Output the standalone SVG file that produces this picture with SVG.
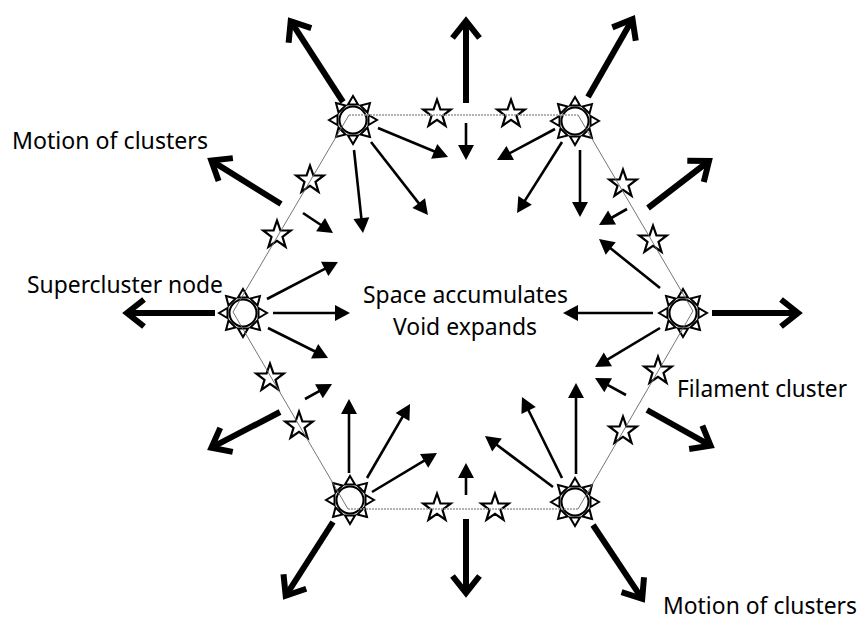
<svg xmlns="http://www.w3.org/2000/svg" xmlns:xlink="http://www.w3.org/1999/xlink" width="861" height="622" viewBox="0 0 861 622">
<style>
.sun{fill:#fff;stroke:#000;stroke-width:2}
.star{fill:#fff;stroke:#000;stroke-width:2.2;stroke-linejoin:miter}
.edge-h{stroke:#999;stroke-width:1.6;stroke-dasharray:2 1;fill:none}
.edge-d{stroke:#666;stroke-width:0.9;fill:none}
.thin{stroke:#000;stroke-width:2.6;fill:none;marker-end:url(#tri-head)}
.thick{stroke:#000;stroke-width:6;fill:none;marker-end:url(#chev-head)}
.lbl{font-family:"Noto Sans","Open Sans","DejaVu Sans",sans-serif;font-size:23px;fill:#000}
</style>
<defs>
<marker id="tri-head" markerUnits="userSpaceOnUse" orient="auto" markerWidth="40" markerHeight="40" refX="0" refY="0" overflow="visible">
<path d="M-5,-8 L10,0 L-5,8 Z" fill="#000"/>
</marker>
<marker id="chev-head" markerUnits="userSpaceOnUse" orient="auto" markerWidth="60" markerHeight="60" refX="0" refY="0" overflow="visible">
<path d="M-17,-13.5 L0,0 L-17,13.5" fill="none" stroke="#000" stroke-width="6" stroke-linejoin="miter"/>
</marker>
<path id="tri" d="M0,-24 L5,-15.5 L-5,-15.5 Z"/>
<g id="sun">
<use href="#tri"/>
<use href="#tri" transform="rotate(45)"/>
<use href="#tri" transform="rotate(90)"/>
<use href="#tri" transform="rotate(135)"/>
<use href="#tri" transform="rotate(180)"/>
<use href="#tri" transform="rotate(225)"/>
<use href="#tri" transform="rotate(270)"/>
<use href="#tri" transform="rotate(315)"/>
<circle r="13.5"/>
</g>
<path id="star" d="M0,-14.5 L3.4,-4.7 L13.8,-4.5 L5.5,1.8 L8.5,11.7 L0,5.8 L-8.5,11.7 L-5.5,1.8 L-13.8,-4.5 L-3.4,-4.7 Z"/>
</defs>
<rect width="861" height="622" fill="#fff"/>

<g id="node-top-left" class="sun"><use href="#sun" transform="translate(353,120)"/></g>
<g id="node-top-right" class="sun"><use href="#sun" transform="translate(575,121)"/></g>
<g id="node-right" class="sun"><use href="#sun" transform="translate(683,313)"/></g>
<g id="node-bottom-right" class="sun"><use href="#sun" transform="translate(575,502)"/></g>
<g id="node-bottom-left" class="sun"><use href="#sun" transform="translate(350,500)"/></g>
<g id="node-left" class="sun"><use href="#sun" transform="translate(243,313)"/></g>

<g id="filament-top-1" class="star"><use href="#star" transform="translate(437,114)"/></g>
<g id="filament-top-2" class="star"><use href="#star" transform="translate(511,114)"/></g>
<g id="filament-ur-1" class="star"><use href="#star" transform="translate(623,184)"/></g>
<g id="filament-ur-2" class="star"><use href="#star" transform="translate(653,240)"/></g>
<g id="filament-lr-1" class="star"><use href="#star" transform="translate(658,371)"/></g>
<g id="filament-lr-2" class="star"><use href="#star" transform="translate(623,431)"/></g>
<g id="filament-bottom-1" class="star"><use href="#star" transform="translate(437,508)"/></g>
<g id="filament-bottom-2" class="star"><use href="#star" transform="translate(495,508)"/></g>
<g id="filament-ll-1" class="star"><use href="#star" transform="translate(270,378)"/></g>
<g id="filament-ll-2" class="star"><use href="#star" transform="translate(299,426)"/></g>
<g id="filament-ul-1" class="star"><use href="#star" transform="translate(310,180)"/></g>
<g id="filament-ul-2" class="star"><use href="#star" transform="translate(277,235)"/></g>

<g id="connectors">
<g id="hexagon">
<line class="edge-h" x1="349" y1="115" x2="578" y2="115"/>
<line class="edge-d" x1="578" y1="115" x2="693" y2="311"/>
<line class="edge-d" x1="693" y1="311" x2="578" y2="509"/>
<line class="edge-h" x1="578" y1="509" x2="348" y2="509"/>
<line class="edge-d" x1="348" y1="509" x2="233" y2="312"/>
<line class="edge-d" x1="233" y1="312" x2="349" y2="115"/>
</g>
<g id="inflow">
<line class="thin" x1="378" y1="128" x2="438.8" y2="153.2"/>
<line class="thin" x1="354" y1="150" x2="361.9" y2="223.1"/>
<line class="thin" x1="371" y1="142" x2="421.8" y2="207.1"/>
<line class="thin" x1="466" y1="123" x2="466" y2="150"/>
<line class="thin" x1="555" y1="129" x2="505.8" y2="155.3"/>
<line class="thin" x1="562" y1="142" x2="522.4" y2="204.6"/>
<line class="thin" x1="580" y1="150" x2="580" y2="207"/>
<line class="thin" x1="627" y1="209" x2="607.7" y2="220"/>
<line class="thin" x1="660" y1="288" x2="606.8" y2="245.3"/>
<line class="thin" x1="653" y1="313" x2="573" y2="313"/>
<line class="thin" x1="660" y1="328" x2="603.6" y2="361.9"/>
<line class="thin" x1="626" y1="395" x2="603.8" y2="382.8"/>
<line class="thin" x1="576" y1="474" x2="576" y2="393"/>
<line class="thin" x1="562" y1="478" x2="526.4" y2="406"/>
<line class="thin" x1="553" y1="487" x2="493" y2="442"/>
<line class="thin" x1="466" y1="495" x2="466" y2="473"/>
<line class="thin" x1="349" y1="473" x2="349" y2="409"/>
<line class="thin" x1="367" y1="478" x2="405" y2="412.6"/>
<line class="thin" x1="372" y1="492" x2="428.4" y2="458.2"/>
<line class="thin" x1="305" y1="399" x2="323.3" y2="388.9"/>
<line class="thin" x1="267" y1="299" x2="329.1" y2="266.6"/>
<line class="thin" x1="273" y1="313" x2="340" y2="313"/>
<line class="thin" x1="268" y1="328" x2="319.1" y2="353.5"/>
<line class="thin" x1="303" y1="213" x2="324.7" y2="227.5"/>
</g>
<g id="outflow">
<line class="thick" x1="343" y1="102" x2="290.7" y2="21.2"/>
<line class="thick" x1="466" y1="103" x2="466" y2="21"/>
<line class="thick" x1="588" y1="97" x2="632.5" y2="19.3"/>
<line class="thick" x1="648" y1="208" x2="709" y2="161"/>
<line class="thick" x1="712" y1="313" x2="798" y2="313"/>
<line class="thick" x1="647" y1="410" x2="710.6" y2="445.6"/>
<line class="thick" x1="593" y1="525" x2="642.2" y2="598.8"/>
<line class="thick" x1="466" y1="519" x2="466" y2="593"/>
<line class="thick" x1="333" y1="522" x2="285.7" y2="595.8"/>
<line class="thick" x1="280" y1="412" x2="211.4" y2="447.7"/>
<line class="thick" x1="215" y1="313" x2="127" y2="313"/>
<line class="thick" x1="281" y1="204" x2="211.3" y2="160.6"/>
</g>
</g>

<g id="labels" class="lbl">
<text x="12" y="149" textLength="196" lengthAdjust="spacingAndGlyphs">Motion of clusters</text>
<text x="27" y="293" textLength="196" lengthAdjust="spacingAndGlyphs">Supercluster node</text>
<text x="363" y="303" textLength="205" lengthAdjust="spacingAndGlyphs">Space accumulates</text>
<text x="393" y="335" textLength="144" lengthAdjust="spacingAndGlyphs">Void expands</text>
<text x="677" y="397" textLength="170" lengthAdjust="spacingAndGlyphs">Filament cluster</text>
<text x="663" y="614" textLength="194" lengthAdjust="spacingAndGlyphs">Motion of clusters</text>
</g>
</svg>
